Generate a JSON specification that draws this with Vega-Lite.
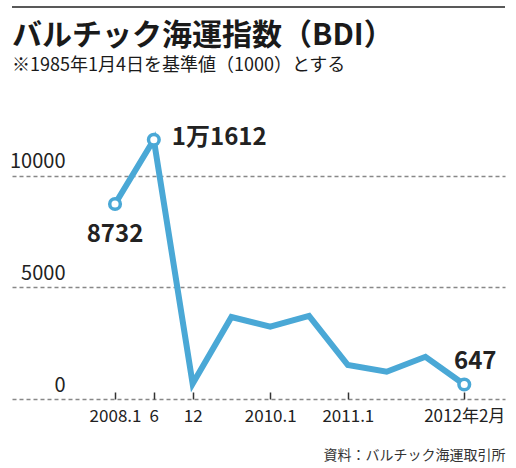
{
  "$schema": "https://vega.github.io/schema/vega-lite/v6.json",
  "width": 493,
  "height": 392,
  "autosize": "none",
  "padding": {"left": 12, "top": 7, "right": 11, "bottom": 69},
  "title": {
    "text": "バルチック海運指数（BDI）",
    "subtitle": "※1985年1月4日を基準値（1000）とする",
    "anchor": "start",
    "frame": "group",
    "offset": -69,
    "fontSize": 30,
    "fontWeight": "bold",
    "color": "#1a1a1a",
    "subtitleFontSize": 18,
    "subtitleColor": "#1a1a1a",
    "subtitlePadding": 6
  },
  "data": {
    "values": [
      {"i": 0, "month": "2008.1", "bdi": 8732, "label": "8732"},
      {"i": 1, "month": "2008.6", "bdi": 11612, "label": "1万1612"},
      {"i": 2, "month": "2008.12", "bdi": 680, "label": ""},
      {"i": 3, "month": "2009.6", "bdi": 3670, "label": ""},
      {"i": 4, "month": "2010.1", "bdi": 3240, "label": ""},
      {"i": 5, "month": "2010.6", "bdi": 3720, "label": ""},
      {"i": 6, "month": "2011.1", "bdi": 1520, "label": ""},
      {"i": 7, "month": "2011.6", "bdi": 1220, "label": ""},
      {"i": 8, "month": "2011.12", "bdi": 1890, "label": ""},
      {"i": 9, "month": "2012.2", "bdi": 647, "label": "647"}
    ]
  },
  "layer": [
    {
      "data": {"values": [{}]},
      "mark": {"type": "rule", "color": "#222", "strokeWidth": 1.5},
      "encoding": {
        "y": {"datum": 17555, "type": "quantitative"}
      }
    },
    {
      "mark": {
        "type": "line",
        "color": "#4aa8d6",
        "strokeWidth": 6,
        "strokeJoin": "miter"
      },
      "encoding": {
        "x": {
          "field": "i",
          "type": "quantitative",
          "scale": {"domain": [-2.655, 10.05], "nice": false, "zero": false},
          "axis": {
            "values": [0, 1, 2, 4, 6, 9],
            "labelExpr": "datum.value == 0 ? '2008.1' : datum.value == 1 ? '6' : datum.value == 2 ? '12' : datum.value == 4 ? '2010.1' : datum.value == 6 ? '2011.1' : '2012年2月'",
            "grid": false,
            "domain": false,
            "ticks": true,
            "tickSize": -7,
            "tickColor": "#333",
            "tickWidth": 1.5,
            "labelFontSize": 17,
            "labelColor": "#222",
            "labelPadding": 16,
            "title": "資料：バルチック海運取引所",
            "titleAnchor": "end",
            "titleFontSize": 14,
            "titleFontWeight": "normal",
            "titleColor": "#333",
            "titlePadding": 24
          }
        },
        "y": {
          "field": "bdi",
          "type": "quantitative",
          "scale": {"domain": [0, 17555], "nice": false},
          "axis": {
            "values": [0, 5000, 10000],
            "format": "d",
            "grid": true,
            "gridDash": [4, 3],
            "gridColor": "#888",
            "gridWidth": 1.5,
            "domain": false,
            "ticks": false,
            "labelAlign": "right",
            "labelBaseline": "alphabetic",
            "labelPadding": -53,
            "labelOffset": -8,
            "labelFontSize": 20,
            "labelColor": "#222",
            "title": null
          }
        }
      }
    },
    {
      "transform": [{"filter": "datum.label != ''"}],
      "mark": {
        "type": "circle",
        "fill": "white",
        "stroke": "#4aa8d6",
        "strokeWidth": 3.5,
        "size": 113,
        "opacity": 1
      },
      "encoding": {
        "x": {"field": "i", "type": "quantitative"},
        "y": {"field": "bdi", "type": "quantitative"}
      }
    },
    {
      "transform": [{"filter": "datum.i == 0"}],
      "mark": {
        "type": "text",
        "fontSize": 24,
        "fontWeight": "bold",
        "color": "#222",
        "align": "center",
        "baseline": "top",
        "dy": 19
      },
      "encoding": {
        "x": {"field": "i", "type": "quantitative"},
        "y": {"field": "bdi", "type": "quantitative"},
        "text": {"field": "label"}
      }
    },
    {
      "transform": [{"filter": "datum.i == 1"}],
      "mark": {
        "type": "text",
        "fontSize": 24,
        "fontWeight": "bold",
        "color": "#222",
        "align": "left",
        "baseline": "middle",
        "dx": 18,
        "dy": -2
      },
      "encoding": {
        "x": {"field": "i", "type": "quantitative"},
        "y": {"field": "bdi", "type": "quantitative"},
        "text": {"field": "label"}
      }
    },
    {
      "transform": [{"filter": "datum.i == 9"}],
      "mark": {
        "type": "text",
        "fontSize": 24,
        "fontWeight": "bold",
        "color": "#222",
        "align": "center",
        "baseline": "bottom",
        "dx": 11,
        "dy": -11
      },
      "encoding": {
        "x": {"field": "i", "type": "quantitative"},
        "y": {"field": "bdi", "type": "quantitative"},
        "text": {"field": "label"}
      }
    }
  ],
  "config": {
    "font": "Noto Sans CJK JP",
    "view": {"stroke": null}
  }
}
